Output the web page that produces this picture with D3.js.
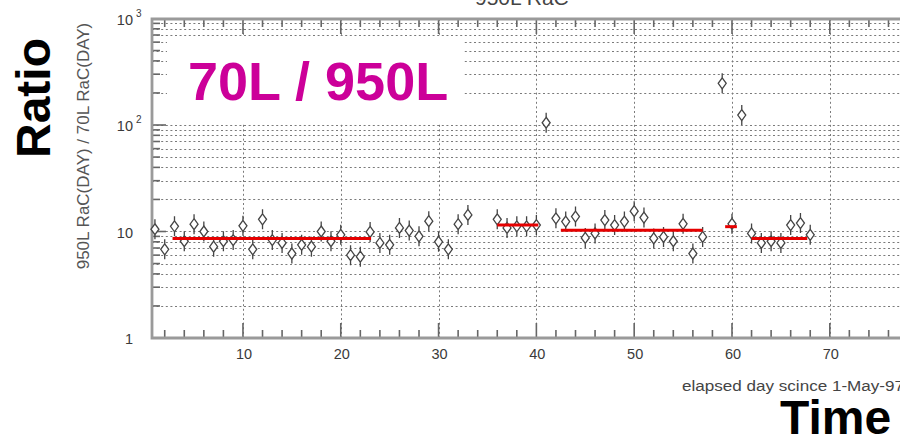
<!DOCTYPE html>
<html>
<head>
<meta charset="utf-8">
<script src="https://cdn.jsdelivr.net/npm/d3@7"></script>
<style>
  html, body { margin: 0; padding: 0; background: #fff; }
  svg { display: block; font-family: "Liberation Sans", Arial, Helvetica, sans-serif; }
</style>
</head>
<body>
<svg id="chart" width="900" height="439"></svg>
<script>
// Daily RaC ratio (950L / 70L), day counted from 1-May-97
const days = [
  1, 2, 3, 4, 5, 6, 7, 8, 9, 10, 11, 12, 13, 14, 15, 16, 17, 18, 19, 20,
  21, 22, 23, 24, 25, 26, 27, 28, 29, 30, 31, 32, 33,
  36, 37, 38, 39, 40, 41, 42, 43, 44, 45, 46, 47, 48, 49, 50, 51, 52, 53, 54, 55, 56, 57,
  59, 60, 61, 62, 63, 64, 65, 66, 67, 68
];
const ratios = [
  10.5, 6.8, 11.2, 8.1, 11.7, 10.0, 7.2, 8.1, 8.3, 11.3, 6.8, 13.0, 8.3, 7.8, 6.2, 7.5, 7.2, 10.0, 8.1, 9.3,
  6.0, 5.8, 9.9, 7.8, 7.5, 10.8, 10.2, 9.0, 12.5, 8.0, 6.8, 11.7, 14.3,
  13.0, 10.8, 11.2, 11.2, 11.5, 105, 13.3, 12.4, 13.8, 8.7, 9.6, 12.8, 11.5, 12.4, 15.5, 13.5, 8.6, 8.9, 8.1, 11.8, 6.2, 8.9,
  246, 11.8, 124, 9.6, 7.8, 8.1, 7.8, 11.5, 12.0, 9.3
];

// Period means (red segments)
const segStart = [2.8, 36.0, 42.5, 59.3, 62.0];
const segEnd   = [23.1, 40.2, 57.0, 60.5, 67.7];
const segMean  = [8.6, 11.5, 10.3, 11.1, 8.6];

// Axis ticks and labels
const xTickValues = [10, 20, 30, 40, 50, 60, 70];
const xTickLabels = ["10", "20", "30", "40", "50", "60", "70"];
const yTickValues = [1, 10, 100, 1000];
const yTickBase = ["1", "10", "10", "10"];
const yTickExp = ["", "", "2", "3"];

const svg = d3.select("#chart");
const W = 900, H = 439;
const plotLeft = 152, plotTop = 19, plotBottom = 338;

const x = d3.scaleLinear().domain([0.7, 80]).range([plotLeft, 927.6]);
const y = d3.scaleLog().domain([1, 1000]).range([plotBottom, 18.5]);

// minor log values 2..9 in each decade, plus the inner decades
const minorY = [];
[1, 10, 100].forEach(d => { for (let k = 2; k <= 9; k++) minorY.push(d * k); });
const gridY = minorY.concat([10, 100]);
const minorX = d3.range(2, 80, 2).filter(v => v % 10 !== 0);

svg.append("rect").attr("width", W).attr("height", H).attr("fill", "#fff");

// ---- grid ----
const grid = svg.append("g").attr("stroke", "#7a7a7a").attr("stroke-width", 1)
  .attr("stroke-dasharray", "2,2.6");
grid.selectAll("line.h").data(gridY).join("line")
  .attr("x1", plotLeft).attr("x2", W)
  .attr("y1", d => Math.round(y(d)) + 0.5).attr("y2", d => Math.round(y(d)) + 0.5);
grid.selectAll("line.v").data(xTickValues).join("line")
  .attr("x1", d => Math.round(x(d)) + 0.5).attr("x2", d => Math.round(x(d)) + 0.5)
  .attr("y1", plotTop).attr("y2", plotBottom);

// white panel behind the heading
svg.append("rect").attr("x", 167).attr("y", 37).attr("width", 296).attr("height", 86)
  .attr("fill", "#fff");

// ---- ticks ----
const ticks = svg.append("g").attr("stroke", "#666").attr("stroke-width", 1.6);
// left axis, inward
ticks.selectAll("line.ly").data(minorY).join("line")
  .attr("x1", plotLeft).attr("x2", plotLeft + 8)
  .attr("y1", d => y(d)).attr("y2", d => y(d));
ticks.selectAll("line.lY").data([10, 100]).join("line")
  .attr("x1", plotLeft).attr("x2", plotLeft + 14)
  .attr("y1", d => y(d)).attr("y2", d => y(d));
// bottom and top axes, inward
ticks.selectAll("line.bx").data(minorX).join("line")
  .attr("x1", d => x(d)).attr("x2", d => x(d))
  .attr("y1", plotBottom).attr("y2", plotBottom - 8);
ticks.selectAll("line.bX").data(xTickValues).join("line")
  .attr("x1", d => x(d)).attr("x2", d => x(d))
  .attr("y1", plotBottom).attr("y2", plotBottom - 15);
ticks.selectAll("line.tx").data(minorX).join("line")
  .attr("x1", d => x(d)).attr("x2", d => x(d))
  .attr("y1", plotTop).attr("y2", plotTop + 8);
ticks.selectAll("line.tX").data(xTickValues).join("line")
  .attr("x1", d => x(d)).attr("x2", d => x(d))
  .attr("y1", plotTop).attr("y2", plotTop + 15);

// ---- frame ----
svg.append("path")
  .attr("d", `M${W + 5},${plotTop} H${plotLeft} V${plotBottom} H${W + 5}`)
  .attr("fill", "none").attr("stroke", "#9a9a9a").attr("stroke-width", 2.8);

// ---- data points: open diamonds with short stems ----
const pts = svg.append("g").attr("fill", "#fff").attr("stroke", "#444").attr("stroke-width", 1.3);
pts.selectAll("g.pt").data(days.map((d, i) => ({ d, v: ratios[i] }))).join("g")
  .attr("transform", p => `translate(${x(p.d)},${y(p.v)})`)
  .call(g => {
    g.append("path").attr("d", "M0,-10V-5.5M0,5.5V10").attr("fill", "none");
    g.append("path").attr("d", "M0,-5.5L4,0L0,5.5L-4,0Z");
  });

// ---- period means ----
svg.append("g").selectAll("line").data(segMean).join("line")
  .attr("x1", (m, i) => x(segStart[i])).attr("x2", (m, i) => x(segEnd[i]))
  .attr("y1", m => y(m)).attr("y2", m => y(m))
  .attr("stroke", "#e60000").attr("stroke-width", 3);

// ---- tick labels ----
const lab = svg.append("g").attr("fill", "#3a3a3a").attr("font-size", 14.5);
lab.selectAll("text.x").data(xTickValues).join("text")
  .attr("x", d => x(d) + 1).attr("y", 359)
  .attr("text-anchor", "middle")
  .text((d, i) => xTickLabels[i]);
yTickValues.forEach((v, i) => {
  lab.append("text").attr("x", 133).attr("y", y(v) + 6)
    .attr("text-anchor", "end").text(yTickBase[i]);
  if (yTickExp[i]) {
    lab.append("text").attr("x", 136).attr("y", y(v) - 2)
      .attr("font-size", 10).text(yTickExp[i]);
  }
});

// chart heading (top edge)
svg.append("text").attr("x", 475).attr("y", 5).attr("font-size", 21).attr("fill", "#444")
  .text("950L RaC");

// axis titles
svg.append("text")
  .attr("transform", "translate(89,146) rotate(-90)")
  .attr("text-anchor", "middle").attr("font-size", 17).attr("fill", "#555")
  .text("950L RaC(DAY) / 70L RaC(DAY)");
svg.append("text").attr("x", 682).attr("y", 391)
  .attr("font-size", 14).attr("fill", "#444")
  .attr("textLength", 222).attr("lengthAdjust", "spacingAndGlyphs")
  .text("elapsed day scince 1-May-97");

// large labels
svg.append("text").attr("x", 188).attr("y", 100)
  .attr("font-size", 54).attr("font-weight", "bold").attr("fill", "#cc0099")
  .text("70L / 950L");
svg.append("text").attr("transform", "translate(50,158) rotate(-90)")
  .attr("font-size", 48).attr("font-weight", "bold").attr("fill", "#000")
  .text("Ratio");
svg.append("text").attr("x", 780).attr("y", 434)
  .attr("font-size", 48).attr("font-weight", "bold").attr("fill", "#000")
  .text("Time");
</script>
</body>
</html>
